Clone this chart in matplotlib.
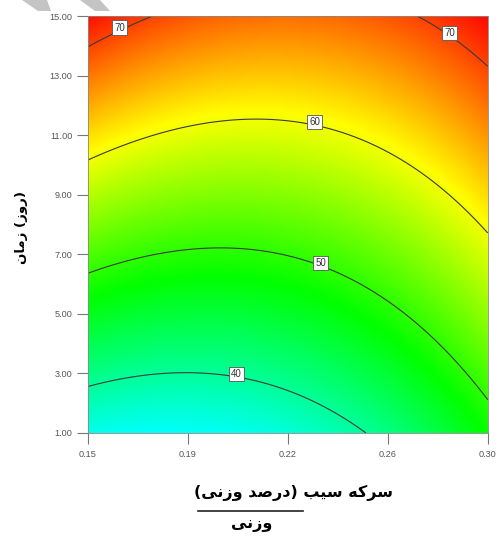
import numpy as np
import matplotlib.pyplot as plt
from matplotlib.colors import LinearSegmentedColormap
from matplotlib.patches import Polygon
from matplotlib.lines import Line2D

# quadratic model in coded units: A = apple vinegar, B = time
coef_names = ['Intercept', 'A', 'B', 'A^2', 'B^2', 'AB']
coef_values = [52.3, 3.1, 15.45, 5.1, 0.0, -2.95]

vinegar_range = [0.15, 0.30]
time_range = [1.0, 15.0]

contour_levels = [40, 50, 60, 70]

x_ticks = [0.15, 0.1875, 0.225, 0.2625, 0.30]
x_tick_labels = ['0.15', '0.19', '0.22', '0.26', '0.30']
y_ticks = [1, 3, 5, 7, 9, 11, 13, 15]

# persian labels, already shaped (presentation forms, visual order)
xlabel_main = '(\uFBFD\uFEE7\uFEAF\uFEED \uFEAA\uFEBB\uFEAD\uFEA9) \uFE90\uFBFF\uFEB3 \uFEEA\uFB90\uFEAE\uFEB3'
xlabel_under = '\uFBFD\uFEE7\uFEAF\uFEED'
ylabel_text = '\uFEE5\uFE8E\uFEE3\uFEAF (\uFEAF\uFEED\uFEAD)'

W, H = 497, 538
fig = plt.figure(figsize=(W / 100, H / 100), dpi=100)
ax = fig.add_axes([87.7 / W, 1 - 433 / H, 400 / W, 416.7 / H])

x = np.linspace(vinegar_range[0], vinegar_range[1], 300)
t = np.linspace(time_range[0], time_range[1], 300)
X, T = np.meshgrid(x, t)
A = (X - np.mean(vinegar_range)) / (np.diff(vinegar_range)[0] / 2)
B = (T - np.mean(time_range)) / (np.diff(time_range)[0] / 2)
b0, b1, b2, b11, b22, b12 = coef_values
R = b0 + b1 * A + b2 * B + b11 * A ** 2 + b22 * B ** 2 + b12 * A * B

cmap = LinearSegmentedColormap.from_list(
    'de', ['#0000ff', '#00ffff', '#00ff00', '#ffff00', '#ff0000'])
ax.pcolormesh(X, T, R, cmap=cmap, vmin=22, vmax=73.5, shading='gouraud')

cs = ax.contour(X, T, R, levels=contour_levels, colors='#3a3a3a', linewidths=0.8)
spots = [(0.1614, 14.64), (0.2866, 14.44), (0.2356, 11.53), (0.238, 6.79), (0.2061, 3.07)]
labels = ax.clabel(cs, inline=False, fmt='%d', fontsize=7, manual=spots)
for lb in labels:
    lb.set_rotation(0)
    lb.set_color('#333333')
    lb.set_family('Liberation Sans')
    lb.set_bbox(dict(boxstyle='square,pad=0.22', fc='white', ec='#555555', lw=0.6))
    # boxes sit a touch above the line
    lx, ly = lb.get_position()
    lb.set_position((lx, ly + 0.1))

ax.set_xlim(vinegar_range)
ax.set_ylim(time_range)
ax.set_xticks(x_ticks)
ax.set_xticklabels(x_tick_labels)
ax.set_yticks(y_ticks)
ax.set_yticklabels(['%.2f' % v for v in y_ticks])
ax.tick_params(axis='both', direction='out', length=8, width=0.8, color='#777777',
               labelsize=6.6, labelcolor='#555555')
ax.tick_params(axis='y', pad=3)
ax.tick_params(axis='x', pad=4)
for lab in ax.get_xticklabels() + ax.get_yticklabels():
    lab.set_family('Liberation Sans')
for sp in ax.spines.values():
    sp.set_color('#888888')
    sp.set_linewidth(0.6)

# axis titles
fig.text(294 / W, 1 - 493 / H, xlabel_main, ha='center', va='center',
         fontsize=11.5, fontweight='bold', family=['DejaVu Sans'])
fig.add_artist(Line2D([198 / W, 303 / W], [1 - 511 / H, 1 - 511 / H],
                      color='#222222', lw=1.2))
fig.text(252 / W, 1 - 525 / H, xlabel_under, ha='center', va='center',
         fontsize=11.5, fontweight='bold', family=['DejaVu Sans'])
fig.text(22 / W, 1 - 227 / H, ylabel_text, ha='center', va='center', rotation=90,
         fontsize=9.5, fontweight='bold', family=['DejaVu Sans'])

# grey strokes at the top edge
for pts in [[(22, 0), (47, 0), (51, 11), (38, 11)], [(80, 0), (100, 0), (110, 11), (95, 11)]]:
    fig.add_artist(Polygon([(px / W, 1 - py / H) for px, py in pts], closed=True,
                           transform=fig.transFigure, fc='#c4c4c4', ec='none'))

fig.savefig('out.png', dpi=100)
